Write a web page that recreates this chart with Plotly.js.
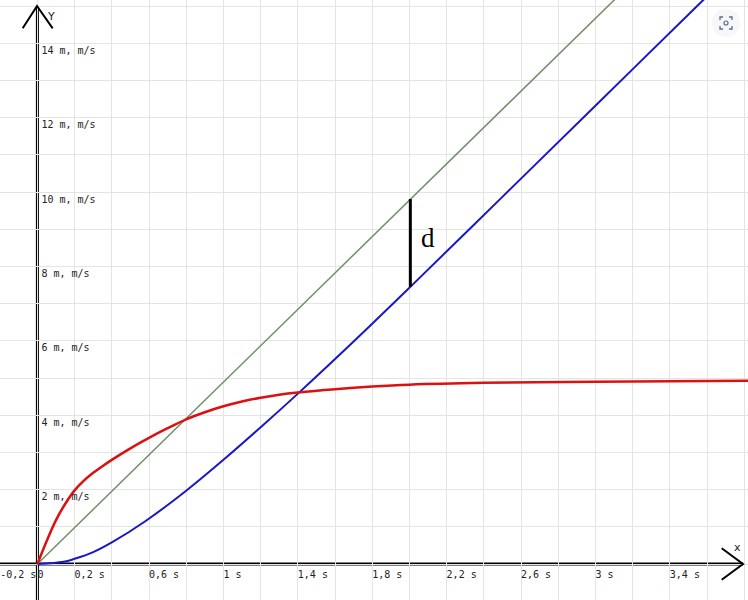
<!DOCTYPE html>
<html>
<head>
<meta charset="utf-8">
<script src="https://cdn.plot.ly/plotly-3.0.1.min.js"></script>
<style>html,body{margin:0;padding:0;background:#fff;}#chart{width:748px;height:600px;}</style>
</head>
<body>
<div id="chart"></div>
<script>
// ---- data ----
const redT  = [0, 0.05, 0.1, 0.15, 0.2, 0.25, 0.3, 0.35, 0.4, 0.5, 0.6, 0.7, 0.8, 0.9, 1.0, 1.1, 1.2, 1.3, 1.4, 1.6, 1.8, 2.0, 2.4, 3.0, 3.85];
const redV  = [0, 0.62, 1.18, 1.62, 1.98, 2.24, 2.45, 2.63, 2.80, 3.11, 3.39, 3.65, 3.89, 4.08, 4.24, 4.37, 4.47, 4.55, 4.61, 4.70, 4.77, 4.82, 4.87, 4.90, 4.93];

const blueT = [0, 0.141, 0.2, 0.3, 0.4, 0.58, 0.805, 1.0, 1.217, 1.405, 1.7, 2.005, 2.5, 3.0, 3.547, 3.65];
const blueS = [0, 0.06, 0.14, 0.32, 0.58, 1.15, 1.99, 2.80, 3.75, 4.60, 5.98, 7.45, 9.87, 12.32, 15.0, 15.5];

const greenT = [0, 3.15];
const greenS = [0, 15.4];

const dT = [2.005, 2.005];
const dS = [9.81, 7.45];

const xTickVals = [-0.2, 0, 0.2, 0.4, 0.6, 0.8, 1, 1.2, 1.4, 1.6, 1.8, 2, 2.2, 2.4, 2.6, 2.8, 3, 3.2, 3.4, 3.6, 3.8];
const xTickText = ['-0,2 s', '0', '0,2 s', '', '0,6 s', '', '1 s', '', '1,4 s', '', '1,8 s', '', '2,2 s', '', '2,6 s', '', '3 s', '', '3,4 s', '', ''];
const yTickVals = [0, 1, 2, 3, 4, 5, 6, 7, 8, 9, 10, 11, 12, 13, 14, 15];
const yTickText = ['', '', '2 m, m/s', '', '4 m, m/s', '', '6 m, m/s', '', '8 m, m/s', '', '10 m, m/s', '', '12 m, m/s', '', '14 m, m/s', ''];

// ---- geometry ----
const W = 748, H = 600;
const PX_PER_S = 186, PX_PER_U = 37.2, X0 = 37.4, Y0 = 564;
const xRange = [-X0 / PX_PER_S, (W - X0) / PX_PER_S];
const yRange = [-(H - Y0) / PX_PER_U, Y0 / PX_PER_U];
const dx = p => (p - X0) / PX_PER_S;   // pixel -> data (x)
const dy = p => (Y0 - p) / PX_PER_U;   // pixel -> data (y)
const px = p => p / W, py = p => 1 - p / H; // pixel -> paper

const tickFont = {family: 'DejaVu Sans Mono, monospace', size: 10, color: '#222'};

const traces = [
  {x: greenT, y: greenS, mode: 'lines', line: {color: '#6f9068', width: 1.5}, hoverinfo: 'skip'},
  {x: blueT, y: blueS, mode: 'lines', line: {color: '#1a17c4', width: 2, shape: 'spline', smoothing: 1}, hoverinfo: 'skip'},
  {x: redT, y: redV, mode: 'lines', line: {color: '#dd1010', width: 2.5, shape: 'spline', smoothing: 1}, hoverinfo: 'skip'},
  {x: dT, y: dS, mode: 'lines', line: {color: '#000', width: 3}, hoverinfo: 'skip'}
];

const shapes = [
  // axes
  {type: 'line', xref: 'x', yref: 'y', x0: xRange[0], y0: 0, x1: dx(743), y1: 0, line: {color: '#000', width: 3}, layer: 'below'},
  {type: 'line', xref: 'x', yref: 'y', x0: 0, y0: yRange[0], x1: 0, y1: dy(6), line: {color: '#000', width: 3}, layer: 'below'},
  // arrow heads
  {type: 'path', xref: 'x', yref: 'y', path: `M${dx(721.7)},${dy(548.3)} L${dx(743)},${dy(564)} L${dx(721.7)},${dy(579.7)}`, line: {color: '#000', width: 2}},
  {type: 'path', xref: 'x', yref: 'y', path: `M${dx(22.7)},${dy(28.3)} L${dx(37)},${dy(6)} L${dx(52.7)},${dy(28.3)}`, line: {color: '#000', width: 2}},
  // UI button top right
  {type: 'circle', xref: 'paper', yref: 'paper', x0: px(712), x1: px(740), y0: py(37), y1: py(9), fillcolor: '#f6f7f8', line: {width: 0}},
  {type: 'path', xref: 'paper', yref: 'paper',
   path: `M${px(720)},${py(20)} L${px(720)},${py(17)} L${px(723)},${py(17)} M${px(729)},${py(17)} L${px(732)},${py(17)} L${px(732)},${py(20)} M${px(732)},${py(26)} L${px(732)},${py(29)} L${px(729)},${py(29)} M${px(723)},${py(29)} L${px(720)},${py(29)} L${px(720)},${py(26)}`,
   line: {color: '#5a6f86', width: 1.3}},
  {type: 'circle', xref: 'paper', yref: 'paper', x0: px(724), x1: px(728), y0: py(25), y1: py(21), line: {color: '#5a6f86', width: 1.2}}
];

const annotations = [
  {x: dx(51), y: dy(16), xref: 'x', yref: 'y', text: 'Y', showarrow: false, font: {family: 'DejaVu Sans, sans-serif', size: 11, color: '#222'}},
  {x: dx(737), y: dy(547), xref: 'x', yref: 'y', text: 'x', showarrow: false, font: {family: 'DejaVu Sans, sans-serif', size: 11, color: '#222'}},
  {x: dx(428), y: dy(238), xref: 'x', yref: 'y', text: 'd', showarrow: false, font: {family: 'Liberation Serif, Times New Roman, serif', size: 27, color: '#000'}}
];

const layout = {
  width: W, height: H,
  margin: {l: 0, r: 0, t: 0, b: 0, pad: 0},
  paper_bgcolor: '#fff', plot_bgcolor: '#fff',
  showlegend: false,
  xaxis: {
    range: xRange, tickmode: 'array', tickvals: xTickVals, ticktext: xTickText,
    showgrid: true, gridcolor: '#e4e4e4', gridwidth: 1, zeroline: false, showline: false,
    ticks: '', ticklen: 0, tickfont: tickFont,
    anchor: 'free', position: (H - Y0) / H, ticklabelposition: 'outside right',
    ticklabeloverflow: 'allow', ticklabelstandoff: 3,
    fixedrange: true
  },
  yaxis: {
    range: yRange, tickmode: 'array', tickvals: yTickVals, ticktext: yTickText,
    showgrid: true, gridcolor: '#e4e4e4', gridwidth: 1, zeroline: false, showline: false,
    ticks: '', ticklen: 0, tickfont: tickFont,
    anchor: 'free', position: X0 / W, ticklabelposition: 'inside bottom',
    ticklabeloverflow: 'allow', ticklabelshift: 1.5,
    fixedrange: true
  },
  shapes: shapes,
  annotations: annotations
};

Plotly.newPlot('chart', traces, layout, {displayModeBar: false, staticPlot: true});
</script>
</body>
</html>
